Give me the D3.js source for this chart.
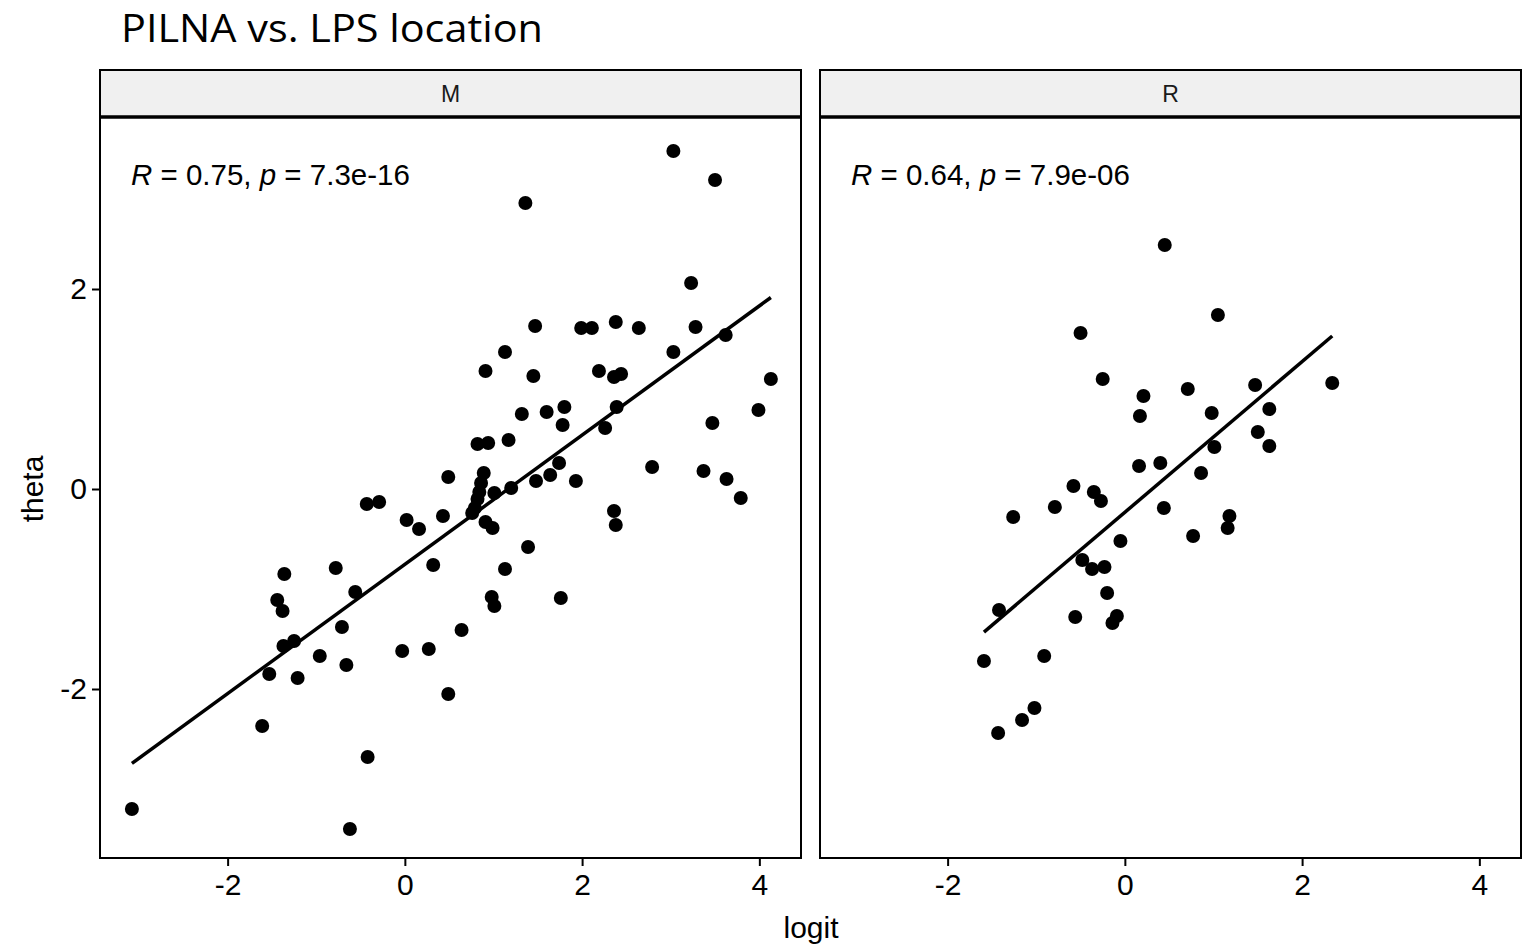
<!DOCTYPE html>
<html>
<head>
<meta charset="utf-8">
<script src="https://cdn.jsdelivr.net/npm/d3@7"></script>
<style>
  body { margin: 0; background: #fff; }
  text { font-family: 'Liberation Sans', Arial, sans-serif; }
</style>
</head>
<body>
<svg id="chart"></svg>
<script>
/* global d3 */

// Panel names and facet annotations
const panels = ['M', 'R']
const statLabels = [
  { r: '0.75', p: '7.3e-16' },
  { r: '0.64', p: '7.9e-06' }
]
const tickValues = [-2, 0, 2, 4]
const yTickValues = [-2, 0, 2]

// Panel M: logit vs theta
const mLogit = [
  -3.08, -1.61, -1.53, -1.44, -1.38, -1.36, -1.37, -1.25, -1.21, -0.96,
  -0.78, -0.71, -0.66, -0.62, -0.56, -0.42, -0.43, -0.29, -0.03, 0.02,
  0.16, 0.27, 0.32, 0.43, 0.49, 0.49, 0.64, 0.76, 0.79, 0.82,
  0.94, 0.89, 0.86, 0.84, 0.82, 0.91, 0.91, 0.99, 1.01, 0.98,
  1.01, 1.13, 1.13, 1.17, 1.20, 1.32, 1.36, 1.39, 1.45, 1.47,
  1.48, 1.60, 1.64, 1.74, 1.76, 1.78, 1.80, 1.93, 1.99, 2.11,
  2.19, 2.26, 2.36, 2.36, 2.38, 2.38, 2.39, 2.44, 2.64, 2.79,
  3.03, 3.03, 3.23, 3.28, 3.37, 3.47, 3.50, 3.62, 3.63, 3.79,
  3.99, 4.13
]
const mTheta = [
  -3.20, -2.37, -1.85, -1.11, -1.22, -0.85, -1.57, -1.52, -1.89, -1.67,
  -0.79, -1.38, -1.76, -3.40, -1.03, -2.68, -0.15, -0.13, -1.62, -0.31,
  -0.40, -1.60, -0.76, -0.27, 0.12, -2.05, -1.41, -0.24, -0.19, 0.45,
  0.46, 0.16, 0.06, -0.03, -0.10, 1.18, -0.33, -0.39, -0.04, -1.08,
  -1.17, 1.37, -0.80, 0.49, 0.01, 0.75, 2.86, -0.58, 1.13, 1.63,
  0.08, 0.77, 0.14, 0.26, -1.09, 0.64, 0.82, 0.08, 1.61, 1.61,
  1.18, 0.61, 1.12, -0.22, 1.67, -0.36, 0.82, 1.15, 1.61, 0.22,
  3.38, 1.37, 2.06, 1.62, 0.18, 0.66, 3.09, 1.54, 0.10, -0.09,
  0.79, 1.10
]

// Panel R: logit vs theta
const rLogit = [
  0.45, 1.05, -0.50, -0.25, 0.21, 0.71, 1.47, 2.34, 0.17, 0.98,
  1.63, 1.50, 1.63, 1.01, 0.16, 0.40, 0.86, -0.58, -0.35, -0.27,
  -0.79, -1.26, 0.44, 1.18, 1.16, 0.77, -0.05, -0.48, -0.37, -0.23,
  -0.20, -1.42, -0.56, -0.09, -0.14, -1.59, -0.91, -1.02, -1.16, -1.43
]
const rTheta = [
  2.44, 1.74, 1.56, 1.10, 0.93, 1.00, 1.04, 1.06, 0.73, 0.76,
  0.80, 0.57, 0.43, 0.42, 0.23, 0.26, 0.16, 0.03, -0.03, -0.12,
  -0.18, -0.28, -0.19, -0.27, -0.39, -0.47, -0.52, -0.71, -0.80, -0.78,
  -1.04, -1.21, -1.28, -1.27, -1.34, -1.72, -1.67, -2.19, -2.31, -2.44
]

const series = [
  mLogit.map((x, i) => ({ x, y: mTheta[i] })),
  rLogit.map((x, i) => ({ x, y: rTheta[i] }))
]

// Layout
const svgWidth = 1535
const svgHeight = 944
const panelLeft = [100, 820]
const panelWidth = 701
const stripTop = 70
const panelTop = 117
const panelBottom = 858
const axisFont = '30px'

const svg = d3.select('#chart')
  .attr('width', svgWidth)
  .attr('height', svgHeight)

const yScale = d3.scaleLinear()
  .domain([-3.69, 3.72])
  .range([panelBottom, panelTop])

// least squares fit, like geom_smooth(method = 'lm')
function linearFit (pts) {
  const mx = d3.mean(pts, d => d.x)
  const my = d3.mean(pts, d => d.y)
  const sxy = d3.sum(pts, d => (d.x - mx) * (d.y - my))
  const sxx = d3.sum(pts, d => (d.x - mx) * (d.x - mx))
  const b = sxy / sxx
  return x => my + b * (x - mx)
}

// Title
svg.append('text')
  .attr('x', 121)
  .attr('y', 42)
  .attr('textLength', 422)
  .attr('lengthAdjust', 'spacingAndGlyphs')
  .style('font-family', "'Open Sans', 'Noto Sans', sans-serif")
  .style('font-size', '38px')
  .text('PILNA vs. LPS location')

panels.forEach((name, i) => {
  const x0 = panelLeft[i]
  const xScale = d3.scaleLinear()
    .domain([-3.44, 4.47])
    .range([x0, x0 + panelWidth])

  const g = svg.append('g')

  // strip
  g.append('rect')
    .attr('x', x0)
    .attr('y', stripTop)
    .attr('width', panelWidth)
    .attr('height', panelTop - stripTop)
    .attr('fill', '#f0f0f0')
    .attr('stroke', '#000')
    .attr('stroke-width', 2)

  g.append('text')
    .attr('x', x0 + panelWidth / 2)
    .attr('y', stripTop + 32)
    .attr('text-anchor', 'middle')
    .style('font-size', '23px')
    .style('fill', '#1a1a1a')
    .text(name)

  // points
  g.append('g')
    .selectAll('circle')
    .data(series[i])
    .join('circle')
    .attr('cx', d => xScale(d.x))
    .attr('cy', d => yScale(d.y))
    .attr('r', 7)
    .attr('fill', '#000')

  // regression line
  const fit = linearFit(series[i])
  const ext = d3.extent(series[i], d => d.x)
  g.append('line')
    .attr('x1', xScale(ext[0]))
    .attr('y1', yScale(fit(ext[0])))
    .attr('x2', xScale(ext[1]))
    .attr('y2', yScale(fit(ext[1])))
    .attr('stroke', '#000')
    .attr('stroke-width', 3.5)

  // correlation label
  const lab = g.append('text')
    .attr('x', x0 + 31)
    .attr('y', 185)
    .style('font-size', '29.5px')
  lab.append('tspan').style('font-style', 'italic').text('R')
  lab.append('tspan').text(` = ${statLabels[i].r}, `)
  lab.append('tspan').style('font-style', 'italic').text('p')
  lab.append('tspan').text(` = ${statLabels[i].p}`)

  // panel border
  g.append('rect')
    .attr('x', x0)
    .attr('y', panelTop)
    .attr('width', panelWidth)
    .attr('height', panelBottom - panelTop)
    .attr('fill', 'none')
    .attr('stroke', '#000')
    .attr('stroke-width', 2)

  g.append('line')
    .attr('x1', x0 - 1)
    .attr('x2', x0 + panelWidth + 1)
    .attr('y1', panelTop)
    .attr('y2', panelTop)
    .attr('stroke', '#000')
    .attr('stroke-width', 3.5)

  // x axis
  const xAxis = g.append('g')
    .attr('transform', `translate(0, ${panelBottom + 1})`)
    .call(d3.axisBottom(xScale).tickValues(tickValues).tickSize(7).tickPadding(8).tickFormat(d => String(d)))
  xAxis.select('.domain').remove()
  xAxis.selectAll('line').attr('stroke', '#000').attr('stroke-width', 2)
  xAxis.selectAll('text').style('font-size', axisFont).attr('fill', '#000')
    .style('font-family', "'Liberation Sans', Arial, sans-serif")

  if (i === 0) {
    const yAxis = g.append('g')
      .attr('transform', `translate(${x0 - 1}, 0)`)
      .call(d3.axisLeft(yScale).tickValues(yTickValues).tickSize(7).tickPadding(5).tickFormat(d => String(d)))
    yAxis.select('.domain').remove()
    yAxis.selectAll('line').attr('stroke', '#000').attr('stroke-width', 2)
    yAxis.selectAll('text').style('font-size', axisFont).attr('fill', '#000')
      .style('font-family', "'Liberation Sans', Arial, sans-serif")
  }
})

// axis titles
svg.append('text')
  .attr('x', 811)
  .attr('y', 938)
  .attr('text-anchor', 'middle')
  .style('font-size', '30px')
  .text('logit')

svg.append('text')
  .attr('transform', `translate(43, ${yScale(0)}) rotate(-90)`)
  .attr('text-anchor', 'middle')
  .style('font-size', '30px')
  .text('theta')
</script>
</body>
</html>
